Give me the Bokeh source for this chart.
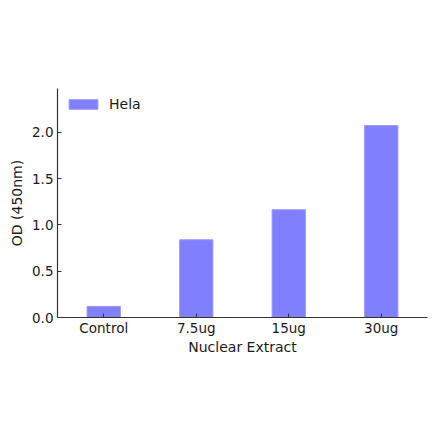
from bokeh.plotting import figure
from bokeh.models import ColumnDataSource, Legend, LegendItem
from bokeh.embed import file_html
from bokeh.resources import INLINE

samples = ['Control', '7.5ug', '15ug', '30ug']
od_hela = [0.12, 0.84, 1.165, 2.075]
y_ticks = [0.0, 0.5, 1.0, 1.5, 2.0]

src = ColumnDataSource(data=dict(x=samples, top=od_hela))

p = figure(x_range=samples, y_range=(0, 2.475), width=432, height=433,
           output_backend="svg", toolbar_location=None,
           min_border_left=57, min_border_right=5, min_border_top=88, min_border_bottom=116)
p.outline_line_color = None
p.background_fill_color = None
p.border_fill_color = None

bars = p.vbar(x='x', top='top', width=0.36, source=src,
              fill_color='#8080FF', line_color='#9999FF', line_width=1)

p.xgrid.grid_line_color = None
p.ygrid.grid_line_color = None

font = "DejaVu Sans"
p.yaxis.ticker = y_ticks
p.yaxis.major_label_overrides = {v: "%.1f" % v for v in y_ticks}
p.yaxis.axis_label = 'OD (450nm)'
p.xaxis.axis_label = 'Nuclear Extract'
for ax in (p.xaxis, p.yaxis):
    ax.axis_line_color = '#333333'
    ax.axis_line_width = 1.2
    ax.major_tick_in = 4
    ax.major_tick_out = 0
    ax.minor_tick_line_color = None
    ax.major_tick_line_color = '#333333'
    ax.major_label_text_font = font
    ax.major_label_text_font_size = '13.5px'
    ax.major_label_text_color = '#1a1a1a'
    ax.axis_label_text_font = font
    ax.axis_label_text_font_size = '14px'
    ax.axis_label_text_font_style = 'normal'
    ax.axis_label_text_color = '#1a1a1a'
p.xaxis.major_label_standoff = 2
p.xaxis.axis_label_standoff = 0
p.yaxis.major_label_standoff = 4
p.yaxis.axis_label_standoff = 4
p.x_range.range_padding = 0

legend = Legend(items=[LegendItem(label='Hela', renderers=[bars])],
                location='top_left', border_line_color=None,
                background_fill_alpha=0, label_text_font=font,
                label_text_font_size='14px', label_text_color='#1a1a1a',
                glyph_width=36, glyph_height=12, margin=8, padding=10, spacing=0,
                label_standoff=8)
p.add_layout(legend)

open("out.html", "w").write(file_html(p, INLINE))
